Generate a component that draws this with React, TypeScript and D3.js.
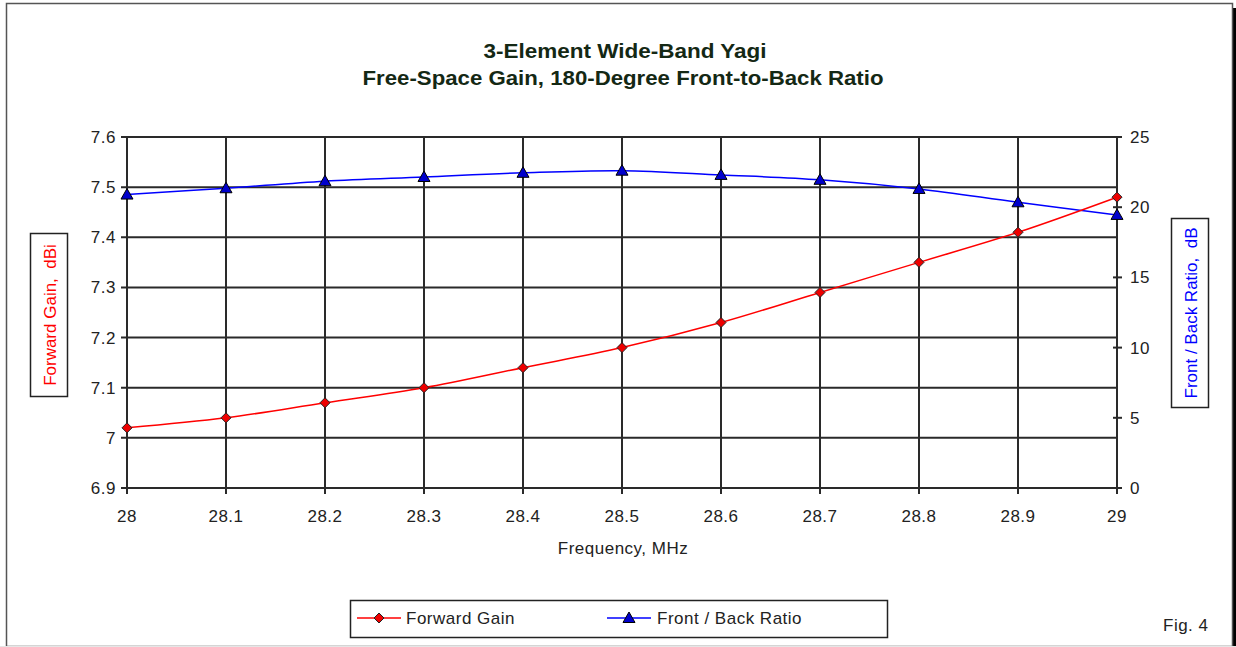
import React from 'react';
import * as d3 from 'd3';

const freqs = [28, 28.1, 28.2, 28.3, 28.4, 28.5, 28.6, 28.7, 28.8, 28.9, 29];
const gainValues = [7.02, 7.04, 7.07, 7.1, 7.14, 7.18, 7.23, 7.29, 7.35, 7.41, 7.48];
const fbValues = [20.9, 21.35, 21.85, 22.15, 22.45, 22.6, 22.3, 21.95, 21.3, 20.35, 19.45];
const gainTicks = [6.9, 7, 7.1, 7.2, 7.3, 7.4, 7.5, 7.6];
const fbTicks = [0, 5, 10, 15, 20, 25];
const titleLines = ['3-Element Wide-Band Yagi', 'Free-Space Gain, 180-Degree Front-to-Back Ratio'];

const W = 1236;
const H = 647;
const FONT = 'Arial, "Liberation Sans", sans-serif';

export default function App() {
  // plot area
  const left = 127, right = 1117, top = 137, bottom = 488;

  const x = d3.scaleLinear().domain([28, 29]).range([left, right]);
  const yGain = d3.scaleLinear().domain([6.9, 7.6]).range([bottom, top]);
  const yFb = d3.scaleLinear().domain([0, 25]).range([bottom, top]);

  const gainLine = d3.line<number>()
    .x((_, i) => x(freqs[i]))
    .y(d => yGain(d))
    .curve(d3.curveCatmullRom.alpha(0.5));
  const fbLine = d3.line<number>()
    .x((_, i) => x(freqs[i]))
    .y(d => yFb(d))
    .curve(d3.curveCatmullRom.alpha(0.5));

  const grid = '#2a2a2a';
  const txt = { fontSize: 17, letterSpacing: 0.5, fill: '#222' };
  const diamond = (cx: number, cy: number, r = 5) =>
    `M${cx},${cy - r}L${cx + r},${cy}L${cx},${cy + r}L${cx - r},${cy}Z`;
  const tri = (cx: number, cy: number, r = 6) =>
    `M${cx},${cy - r}L${cx + r},${cy + r * 0.75}L${cx - r},${cy + r * 0.75}Z`;

  return (
    <svg width={W} height={H} style={{ position: 'absolute', left: 0, top: 0, background: '#fff' }}
      fontFamily={FONT}>
      {/* outer frame with shadow */}
      <rect x={1233} y={8} width={4} height={H - 8} fill="#000" />
      <rect x={6.5} y={3.5} width={1226} height={643} fill="#fff" stroke="#555" strokeWidth={1.5} />
      <line x1={0} x2={W} y1={646.5} y2={646.5} stroke="#e6e6e6" />

      {/* title */}
      <text x={625} y={58} textAnchor="middle" fontSize={20} fontWeight="bold" fill="#142814"
        textLength={283} lengthAdjust="spacingAndGlyphs">{titleLines[0]}</text>
      <text x={623} y={85} textAnchor="middle" fontSize={20} fontWeight="bold" fill="#142814"
        textLength={521} lengthAdjust="spacingAndGlyphs">{titleLines[1]}</text>

      {/* horizontal gridlines + left ticks */}
      {gainTicks.map(t => (
        <g key={`g${t}`}>
          <line x1={left - 6} x2={right} y1={yGain(t)} y2={yGain(t)} stroke={grid} strokeWidth={2} />
          <text x={left - 11} y={yGain(t)} dy="0.35em" textAnchor="end" {...txt}>{t}</text>
        </g>
      ))}

      {/* vertical gridlines + x ticks */}
      {freqs.map(f => (
        <g key={`f${f}`}>
          <line x1={x(f)} x2={x(f)} y1={top} y2={bottom + 6} stroke={grid} strokeWidth={2} />
          <text x={x(f)} y={516} dy="0.35em" textAnchor="middle" {...txt}>{f}</text>
        </g>
      ))}

      {/* right axis ticks */}
      {fbTicks.map(t => (
        <g key={`r${t}`}>
          <line x1={right - 4} x2={right + 5} y1={yFb(t)} y2={yFb(t)} stroke={grid} strokeWidth={2} />
          <text x={right + 13} y={yFb(t)} dy="0.35em" textAnchor="start" {...txt}>{t}</text>
        </g>
      ))}

      {/* series */}
      <path d={fbLine(fbValues) || undefined} fill="none" stroke="#0000ff" strokeWidth={1.5} />
      <path d={gainLine(gainValues) || undefined} fill="none" stroke="#ff0000" strokeWidth={1.5} />
      {fbValues.map((v, i) => (
        <path key={`t${i}`} d={tri(x(freqs[i]), yFb(v))} fill="#0000cc" stroke="#000" strokeWidth={1} />
      ))}
      {gainValues.map((v, i) => (
        <path key={`d${i}`} d={diamond(x(freqs[i]), yGain(v))} fill="#ee0000" stroke="#222" strokeWidth={1} />
      ))}

      {/* axis titles */}
      <text x={623} y={548} dy="0.35em" textAnchor="middle" {...txt}>Frequency, MHz</text>

      <rect x={30.5} y={233.5} width={37} height={163} fill="#fff" stroke="#222" strokeWidth={1.5} />
      <text transform="translate(50,315) rotate(-90)" dy="0.35em" textAnchor="middle" fontSize={17} fill="#ff0000"
        style={{ whiteSpace: 'pre' }}>Forward Gain,  dBi</text>

      <rect x={1171.5} y={218.5} width={37} height={189} fill="#fff" stroke="#222" strokeWidth={1.5} />
      <text transform="translate(1191,313) rotate(-90)" dy="0.35em" textAnchor="middle" fontSize={17} fill="#0000ff"
        style={{ whiteSpace: 'pre' }}>Front / Back Ratio,  dB</text>

      {/* legend */}
      <rect x={350.5} y={600.5} width={537} height={37} fill="#fff" stroke="#222" strokeWidth={1.5} />
      <line x1={357} x2={401} y1={618} y2={618} stroke="#ff0000" strokeWidth={1.5} />
      <path d={diamond(379, 618)} fill="#ee0000" stroke="#222" strokeWidth={1} />
      <text x={406} y={618} dy="0.35em" {...txt}>Forward Gain</text>
      <line x1={607} x2={651} y1={618} y2={618} stroke="#0000ff" strokeWidth={1.5} />
      <path d={tri(629, 618)} fill="#0000cc" stroke="#000" strokeWidth={1} />
      <text x={657} y={618} dy="0.35em" {...txt}>Front / Back Ratio</text>

      <text x={1163} y={625} dy="0.35em" {...txt}>Fig. 4</text>
    </svg>
  );
}
